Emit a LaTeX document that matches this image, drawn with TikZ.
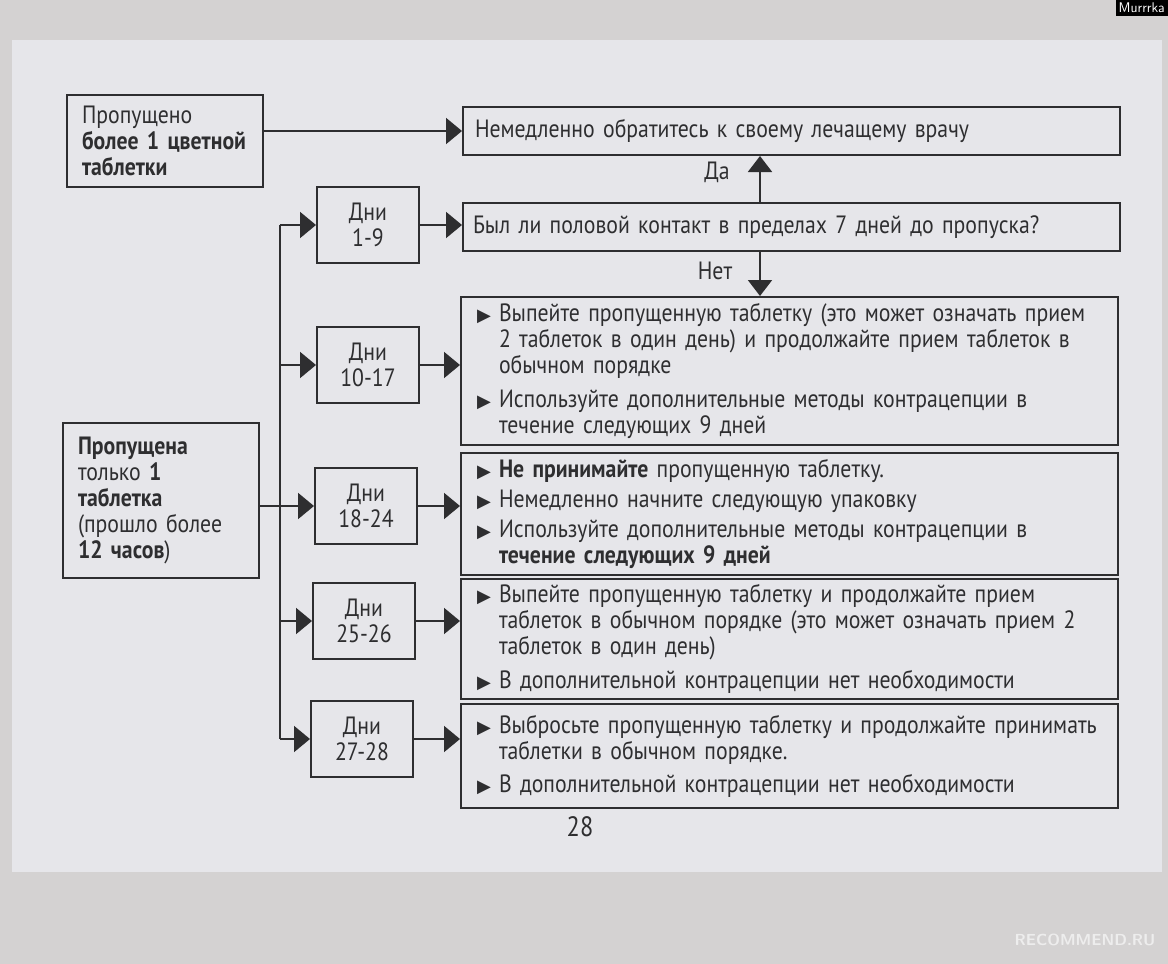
\documentclass[tikz,border=0pt]{standalone}
\usepackage{fontspec}
\setmainfont{PT Sans}[FakeStretch=0.87]
\newfontfamily\sym{DejaVu Sans}
\usetikzlibrary{arrows.meta}
\definecolor{ink}{HTML}{2E2E30}
\definecolor{page}{HTML}{E6E6EA}
\definecolor{bg}{HTML}{D4D2D2}
\newcommand{\bl}{\makebox[22pt][l]{\sym\fontsize{18}{18}\selectfont ▶}}
\newcommand{\ct}{\hspace*{22pt}}
\begin{document}
\begin{tikzpicture}[x=1pt,y=-1pt,
  txt/.style={font=\fontsize{25}{26}\selectfont, text=ink},
  box/.style={draw=ink, line width=2pt, anchor=north west, inner ysep=0pt, txt},
  lbox/.style={box, align=left, inner xsep=15pt},
  dbox/.style={box, align=center, text width=102pt, inner xsep=0pt, minimum height=76pt},
  rbox/.style={box, align=left, text width=627pt, inner xsep=15pt},
  arr/.style={draw=ink, line width=2pt, -{Triangle[length=16pt,width=26pt]}},
  line/.style={draw=ink, line width=2pt}]
\useasboundingbox (0,0) rectangle (1168,964);
\fill[bg] (0,0) rectangle (1168,964);
\fill[page] (12,40) rectangle (1162,872);
\node[fill=black, text=white, font=\fontsize{14}{14}\selectfont\sffamily, anchor=north east, inner sep=3pt] (wm) at (1168,0) {Murrrka};

% left boxes
\node[lbox, text width=166pt, minimum height=92pt] (A) at (66,94)
  {Пропущено\\\textbf{более 1 цветной}\\\textbf{таблетки}};
\node[lbox, text width=166pt, minimum height=155pt] (B) at (62,422)
  {\textbf{Пропущена}\\только \textbf{1}\\\textbf{таблетка}\\(прошло более\\\textbf{12 часов})};

% day boxes
\node[dbox] (d1) at (316,186) {Дни\\1-9};
\node[dbox] (d2) at (316,326) {Дни\\10-17};
\node[dbox] (d3) at (314,467) {Дни\\18-24};
\node[dbox] (d4) at (312,582) {Дни\\25-26};
\node[dbox] (d5) at (310,700) {Дни\\27-28};

% right boxes
\node[rbox, minimum height=48pt, inner xsep=12pt, text width=633pt] (T) at (462,106)
  {Немедленно обратитесь к своему лечащему врачу};
\node[rbox, minimum height=48pt, inner xsep=10pt, text width=637pt] (Q) at (462,202)
  {Был ли половой контакт в пределах 7 дней до пропуска?};
\node[rbox, minimum height=148pt, inner xsep=16pt, text width=625pt] (R1) at (460,296)
  {\bl Выпейте пропущенную таблетку (это может означать прием\\
   \ct 2 таблеток в один день) и продолжайте прием таблеток в\\
   \ct обычном порядке\\[8pt]
   \bl Используйте дополнительные методы контрацепции в\\
   \ct течение следующих 9 дней};
\node[rbox, minimum height=122pt, inner xsep=16pt, text width=625pt] (R2) at (460,452)
  {\bl \textbf{Не принимайте} пропущенную таблетку.\\[4pt]
   \bl Немедленно начните следующую упаковку\\[4pt]
   \bl Используйте дополнительные методы контрацепции в\\
   \ct \textbf{течение следующих 9 дней}};
\node[rbox, minimum height=120pt, inner xsep=16pt, text width=625pt] (R3) at (460,578)
  {\bl Выпейте пропущенную таблетку и продолжайте прием\\
   \ct таблеток в обычном порядке (это может означать прием 2\\
   \ct таблеток в один день)\\[8pt]
   \bl В дополнительной контрацепции нет необходимости};
\node[rbox, minimum height=104pt, inner xsep=16pt, text width=625pt] (R4) at (460,703)
  {\bl Выбросьте пропущенную таблетку и продолжайте принимать\\
   \ct таблетки в обычном порядке.\\[7pt]
   \bl В дополнительной контрацепции нет необходимости};

% connectors
\draw[arr] (T.west -| A.east) -- (T.west);
\coordinate (tx) at (280,0);
\coordinate (yx) at (760,0);
\draw[line] (d1.west -| tx) -- (d5.west -| tx);
\draw[line] (B.east |- d3.west) -- (d3.west -| tx);
\foreach \d in {d1,d2,d3,d4,d5} {
  \draw[arr] (\d.west -| tx) -- (\d.west);
}
\draw[arr] (d1.east) -- (d1.east -| Q.west);
\draw[arr] (d2.east) -- (d2.east -| R1.west);
\draw[arr] (d3.east) -- (d3.east -| R2.west);
\draw[arr] (d4.east) -- (d4.east -| R3.west);
\draw[arr] (d5.east) -- (d5.east -| R4.west);
\draw[arr, -{Triangle[length=16pt,width=24pt]}] (Q.north -| yx) -- (T.south -| yx);
\draw[arr, -{Triangle[length=16pt,width=24pt]}] (Q.south -| yx) -- (R1.north -| yx);
\node[txt] (da) at (717,172) {Да};
\node[txt] (net) at (715,271) {Нет};
\node[txt, font=\fontsize{28}{28}\selectfont] (pg) at (580,827) {28};
\node[text=white, opacity=0.6, font=\fontsize{16}{16}\selectfont\bfseries\sffamily] (rc) at (1085,940) {RECOMMEND.RU};
\end{tikzpicture}
\end{document}
